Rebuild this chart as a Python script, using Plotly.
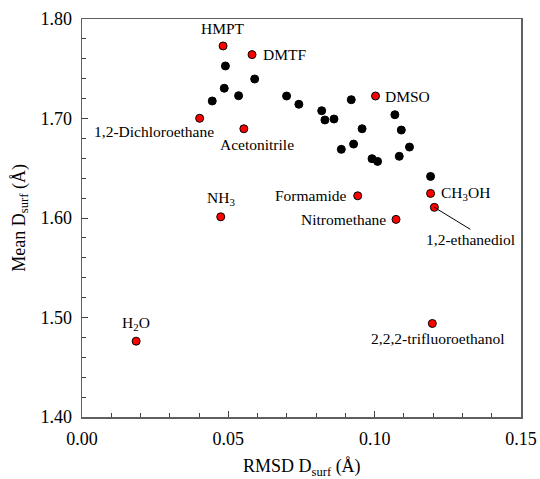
import plotly.graph_objects as go

# Named solvents (red)
solvent_names = ["HMPT", "DMTF", "1,2-Dichloroethane", "Acetonitrile", "DMSO",
                 "Formamide", "Nitromethane", "CH<sub>3</sub>OH", "1,2-ethanediol",
                 "2,2,2-trifluoroethanol", "H<sub>2</sub>O", "NH<sub>3</sub>"]
solvent_rmsd = [0.0482, 0.0581, 0.0402, 0.0553, 0.1003,
                0.0942, 0.1073, 0.1191, 0.1204,
                0.1197, 0.0185, 0.0474]
solvent_mean = [1.7729, 1.7642, 1.7002, 1.6897, 1.7226,
                1.6223, 1.5986, 1.6247, 1.6107,
                1.4940, 1.4762, 1.6012]

# Unlabelled points (black)
other_rmsd = [0.0445, 0.0486, 0.0490, 0.0535, 0.0590, 0.0699, 0.0741,
              0.0819, 0.0830, 0.0861, 0.0920, 0.0886, 0.0928, 0.0957,
              0.1069, 0.1091, 0.1119, 0.0991, 0.1010, 0.1084, 0.1191]
other_mean = [1.7176, 1.7304, 1.7528, 1.7229, 1.7397, 1.7226, 1.7143,
              1.7078, 1.6985, 1.6995, 1.7189, 1.6690, 1.6743, 1.6897,
              1.7038, 1.6884, 1.6713, 1.6596, 1.6569, 1.6620, 1.6418]

x_ticks = [0.00, 0.05, 0.10, 0.15]
y_ticks = [1.40, 1.50, 1.60, 1.70, 1.80]

# label placement (pixel offsets, anchors) -- styling only
label_style = {
    "HMPT": dict(xshift=0, yshift=17, xanchor="center"),
    "DMTF": dict(xshift=9, yshift=0, xanchor="left"),
    "1,2-Dichloroethane": dict(xshift=16, yshift=-13, xanchor="right"),
    "Acetonitrile": dict(xshift=13, yshift=-16, xanchor="center"),
    "DMSO": dict(xshift=7, yshift=0, xanchor="left"),
    "Formamide": dict(xshift=-9, yshift=0, xanchor="right"),
    "Nitromethane": dict(xshift=-8, yshift=0, xanchor="right"),
    "CH<sub>3</sub>OH": dict(xshift=8, yshift=0, xanchor="left"),
    "2,2,2-trifluoroethanol": dict(xshift=5, yshift=-15, xanchor="center"),
    "H<sub>2</sub>O": dict(xshift=0, yshift=18, xanchor="center"),
    "NH<sub>3</sub>": dict(xshift=0, yshift=18, xanchor="center"),
}

FONT = "Liberation Serif, Times New Roman, serif"

fig = go.Figure()
fig.add_trace(go.Scatter(
    x=other_rmsd, y=other_mean, mode="markers",
    marker=dict(color="black", size=8, line=dict(color="black", width=1)),
    showlegend=False, hoverinfo="skip"))
fig.add_trace(go.Scatter(
    x=solvent_rmsd, y=solvent_mean, mode="markers",
    marker=dict(color="#FF0000", size=8, line=dict(color="black", width=1)),
    showlegend=False, hoverinfo="skip"))

annotations = []
for name, xv, yv in zip(solvent_names, solvent_rmsd, solvent_mean):
    if name == "1,2-ethanediol":
        annotations.append(dict(
            x=xv, y=yv, xref="x", yref="y", text=name, showarrow=True,
            arrowhead=0, arrowwidth=1, arrowcolor="black", ax=36, ay=22,
            xanchor="center", yanchor="top",
            font=dict(family=FONT, size=15.5, color="black"), standoff=0))
    else:
        st = label_style[name]
        annotations.append(dict(
            x=xv, y=yv, xref="x", yref="y", text=name, showarrow=False,
            xanchor=st["xanchor"], yanchor="middle",
            xshift=st["xshift"], yshift=st["yshift"],
            font=dict(family=FONT, size=15.5, color="black")))

annotations.append(dict(
    text="RMSD D<sub>surf</sub> (Å)", xref="paper", yref="paper",
    x=0.5, y=-0.128, xanchor="center", yanchor="middle", showarrow=False,
    font=dict(family=FONT, size=18, color="black")))
annotations.append(dict(
    text="Mean D<sub>surf</sub> (Å)", xref="paper", yref="paper",
    x=-0.142, y=0.5, xanchor="center", yanchor="middle", showarrow=False,
    textangle=-90, font=dict(family=FONT, size=18, color="black")))

axis_common = dict(
    showgrid=False, zeroline=False, showline=True, linecolor="#606060",
    linewidth=1.5, mirror=True, ticks="inside", ticklen=6, tickwidth=1,
    tickcolor="#404040", tickformat=".2f", automargin=False,
    tickfont=dict(family=FONT, size=18, color="black"))

fig.update_xaxes(range=[0, 0.15], tickvals=x_ticks,
                 minor=dict(dtick=0.01, ticks="inside", ticklen=4, tickcolor="#404040"),
                 ticklabelstandoff=5, **axis_common)
fig.update_yaxes(range=[1.40, 1.80], tickvals=y_ticks,
                 minor=dict(dtick=0.02, ticks="inside", ticklen=4, tickcolor="#404040"),
                 ticklabelstandoff=5, **axis_common)

fig.update_layout(
    width=540, height=479,
    margin=dict(l=82, r=19, t=19, b=62),
    plot_bgcolor="white", paper_bgcolor="white",
    annotations=annotations,
    font=dict(family=FONT),
)

# remove the page's default body margin so the 540x479 figure fills the window
fig.write_html("out.html",
               config={"displayModeBar": False, "staticPlot": True},
               post_script="document.body.style.margin='0px';"
                           "document.body.style.overflow='hidden';")
